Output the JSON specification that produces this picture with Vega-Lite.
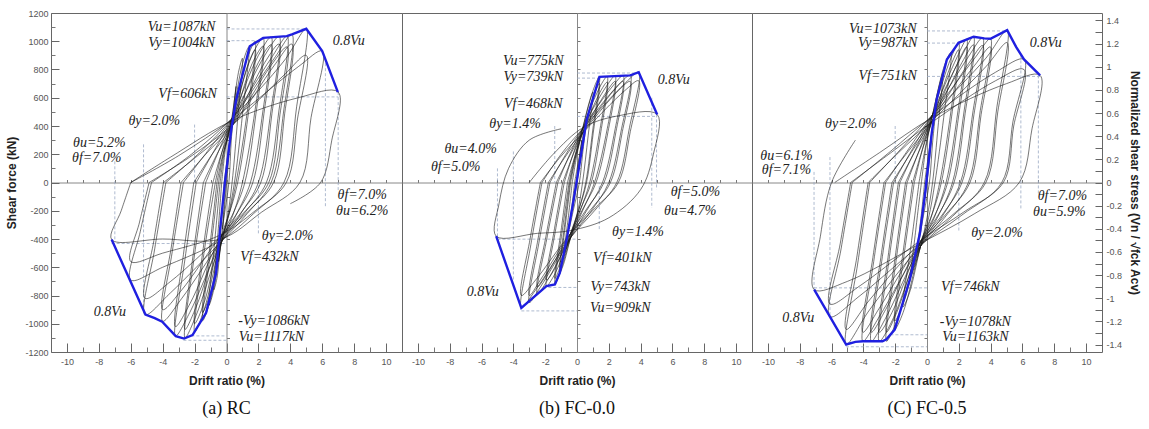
{
"$schema":"https://vega.github.io/schema/vega-lite/v6.json",
"background":"white",
"padding":{"left":5,"top":8,"right":5,"bottom":5},
"spacing":0,
"bounds":"flush",
"config":{"view":{"stroke":"#666","strokeWidth":1},"axis":{"grid":false}},
"datasets":{
"loops":[
{"p":"a","c":1,"x":-0.05,"y":0},{"p":"a","c":1,"x":0.3,"y":400},{"p":"a","c":1,"x":0.1,"y":120},{"p":"a","c":1,"x":-0.25,"y":-330},{"p":"a","c":1,"x":-0.05,"y":0},
{"p":"a","c":2,"x":-0.15,"y":0},{"p":"a","c":2,"x":0.2,"y":300},{"p":"a","c":2,"x":0.6,"y":680},{"p":"a","c":2,"x":0.3,"y":300},{"p":"a","c":2,"x":0.15,"y":0},{"p":"a","c":2,"x":-0.2,"y":-280},{"p":"a","c":2,"x":-0.5,"y":-560},{"p":"a","c":2,"x":-0.3,"y":-250},{"p":"a","c":2,"x":-0.15,"y":0},
{"p":"a","c":3,"x":-0.3,"y":0},{"p":"a","c":3,"x":-0.05,"y":250},{"p":"a","c":3,"x":0.35,"y":470},{"p":"a","c":3,"x":0.75,"y":780},{"p":"a","c":3,"x":1.0,"y":880},{"p":"a","c":3,"x":0.7,"y":450},{"p":"a","c":3,"x":0.35,"y":0},{"p":"a","c":3,"x":0.05,"y":-250},{"p":"a","c":3,"x":-0.35,"y":-440},{"p":"a","c":3,"x":-0.6,"y":-680},{"p":"a","c":3,"x":-0.8,"y":-760},{"p":"a","c":3,"x":-0.55,"y":-380},{"p":"a","c":3,"x":-0.3,"y":0},
{"p":"a","c":4,"x":-0.4,"y":0},{"p":"a","c":4,"x":-0.1,"y":240},{"p":"a","c":4,"x":0.35,"y":450},{"p":"a","c":4,"x":1.0,"y":840},{"p":"a","c":4,"x":1.4,"y":960},{"p":"a","c":4,"x":1.0,"y":480},{"p":"a","c":4,"x":0.5,"y":0},{"p":"a","c":4,"x":0.1,"y":-240},{"p":"a","c":4,"x":-0.35,"y":-440},{"p":"a","c":4,"x":-0.8,"y":-760},{"p":"a","c":4,"x":-1.1,"y":-870},{"p":"a","c":4,"x":-0.75,"y":-430},{"p":"a","c":4,"x":-0.4,"y":0},
{"p":"a","c":5,"x":-0.5,"y":0},{"p":"a","c":5,"x":-0.15,"y":230},{"p":"a","c":5,"x":0.35,"y":440},{"p":"a","c":5,"x":1.3,"y":880},{"p":"a","c":5,"x":1.8,"y":1000},{"p":"a","c":5,"x":1.3,"y":500},{"p":"a","c":5,"x":0.6,"y":0},{"p":"a","c":5,"x":0.15,"y":-230},{"p":"a","c":5,"x":-0.35,"y":-440},{"p":"a","c":5,"x":-1.0,"y":-830},{"p":"a","c":5,"x":-1.5,"y":-980},{"p":"a","c":5,"x":-1.0,"y":-490},{"p":"a","c":5,"x":-0.5,"y":0},
{"p":"a","c":6,"x":-0.7,"y":0},{"p":"a","c":6,"x":-0.25,"y":230},{"p":"a","c":6,"x":0.35,"y":450},{"p":"a","c":6,"x":1.6,"y":900},{"p":"a","c":6,"x":2.3,"y":1024},{"p":"a","c":6,"x":1.8,"y":520},{"p":"a","c":6,"x":1.0,"y":0},{"p":"a","c":6,"x":0.4,"y":-230},{"p":"a","c":6,"x":-0.35,"y":-430},{"p":"a","c":6,"x":-1.4,"y":-900},{"p":"a","c":6,"x":-2.0,"y":-1060},{"p":"a","c":6,"x":-1.45,"y":-530},{"p":"a","c":6,"x":-0.7,"y":0},
{"p":"a","c":7,"x":-1.3,"y":0},{"p":"a","c":7,"x":-0.5,"y":220},{"p":"a","c":7,"x":0.35,"y":450},{"p":"a","c":7,"x":2.0,"y":900},{"p":"a","c":7,"x":2.8,"y":1030},{"p":"a","c":7,"x":2.3,"y":520},{"p":"a","c":7,"x":1.5,"y":0},{"p":"a","c":7,"x":0.6,"y":-230},{"p":"a","c":7,"x":-0.35,"y":-430},{"p":"a","c":7,"x":-1.9,"y":-940},{"p":"a","c":7,"x":-2.6,"y":-1100},{"p":"a","c":7,"x":-2.05,"y":-550},{"p":"a","c":7,"x":-1.3,"y":0},
{"p":"a","c":8,"x":-1.9,"y":0},{"p":"a","c":8,"x":-0.8,"y":220},{"p":"a","c":8,"x":0.35,"y":450},{"p":"a","c":8,"x":2.4,"y":900},{"p":"a","c":8,"x":3.3,"y":1034},{"p":"a","c":8,"x":2.8,"y":520},{"p":"a","c":8,"x":2.0,"y":0},{"p":"a","c":8,"x":0.9,"y":-220},{"p":"a","c":8,"x":-0.35,"y":-430},{"p":"a","c":8,"x":-2.3,"y":-920},{"p":"a","c":8,"x":-3.2,"y":-1088},{"p":"a","c":8,"x":-2.6,"y":-540},{"p":"a","c":8,"x":-1.9,"y":0},
{"p":"a","c":9,"x":-2.7,"y":0},{"p":"a","c":9,"x":-1.2,"y":220},{"p":"a","c":9,"x":0.35,"y":450},{"p":"a","c":9,"x":2.8,"y":880},{"p":"a","c":9,"x":3.8,"y":1036},{"p":"a","c":9,"x":3.3,"y":520},{"p":"a","c":9,"x":2.5,"y":0},{"p":"a","c":9,"x":1.1,"y":-220},{"p":"a","c":9,"x":-0.35,"y":-420},{"p":"a","c":9,"x":-2.8,"y":-820},{"p":"a","c":9,"x":-4.0,"y":-982},{"p":"a","c":9,"x":-3.4,"y":-490},{"p":"a","c":9,"x":-2.7,"y":0},
{"p":"a","c":10,"x":-3.8,"y":0},{"p":"a","c":10,"x":-1.7,"y":210},{"p":"a","c":10,"x":0.4,"y":460},{"p":"a","c":10,"x":3.0,"y":880},{"p":"a","c":10,"x":4.1,"y":1048},{"p":"a","c":10,"x":3.6,"y":520},{"p":"a","c":10,"x":2.8,"y":0},{"p":"a","c":10,"x":1.3,"y":-220},{"p":"a","c":10,"x":-0.35,"y":-420},{"p":"a","c":10,"x":-3.5,"y":-780},{"p":"a","c":10,"x":-5.1,"y":-935},{"p":"a","c":10,"x":-4.5,"y":-470},{"p":"a","c":10,"x":-3.8,"y":0},
{"p":"a","c":11,"x":-4.7,"y":0},{"p":"a","c":11,"x":-2.2,"y":200},{"p":"a","c":11,"x":0.4,"y":460},{"p":"a","c":11,"x":3.6,"y":860},{"p":"a","c":11,"x":5.0,"y":1088},{"p":"a","c":11,"x":4.4,"y":540},{"p":"a","c":11,"x":3.6,"y":0},{"p":"a","c":11,"x":1.7,"y":-220},{"p":"a","c":11,"x":-0.35,"y":-410},{"p":"a","c":11,"x":-4.0,"y":-600},{"p":"a","c":11,"x":-6.0,"y":-690},{"p":"a","c":11,"x":-5.4,"y":-345},{"p":"a","c":11,"x":-4.7,"y":0},
{"p":"a","c":12,"x":-6.0,"y":0},{"p":"a","c":12,"x":-3.0,"y":190},{"p":"a","c":12,"x":0.4,"y":450},{"p":"a","c":12,"x":4.5,"y":820},{"p":"a","c":12,"x":6.0,"y":930},{"p":"a","c":12,"x":5.3,"y":460},{"p":"a","c":12,"x":4.6,"y":0},{"p":"a","c":12,"x":2.2,"y":-210},{"p":"a","c":12,"x":-0.35,"y":-400},{"p":"a","c":12,"x":-4.0,"y":-400},{"p":"a","c":12,"x":-7.2,"y":-404},{"p":"a","c":12,"x":-6.6,"y":-200},{"p":"a","c":12,"x":-6.0,"y":0},
{"p":"a","c":13,"x":-6.0,"y":0},{"p":"a","c":13,"x":-3.5,"y":180},{"p":"a","c":13,"x":0.4,"y":440},{"p":"a","c":13,"x":4.5,"y":600},{"p":"a","c":13,"x":7.0,"y":640},{"p":"a","c":13,"x":6.6,"y":300},{"p":"a","c":13,"x":5.9,"y":0},{"p":"a","c":13,"x":4.0,"y":-150},
{"p":"a","c":105,"x":-0.6,"y":0},{"p":"a","c":105,"x":-0.2,"y":210},{"p":"a","c":105,"x":0.35,"y":400},{"p":"a","c":105,"x":1.3,"y":820},{"p":"a","c":105,"x":1.8,"y":940},{"p":"a","c":105,"x":1.35,"y":470},{"p":"a","c":105,"x":0.7,"y":0},{"p":"a","c":105,"x":0.2,"y":-210},{"p":"a","c":105,"x":-0.35,"y":-390},{"p":"a","c":105,"x":-1.0,"y":-780},{"p":"a","c":105,"x":-1.5,"y":-920},{"p":"a","c":105,"x":-1.05,"y":-460},{"p":"a","c":105,"x":-0.6,"y":0},
{"p":"a","c":106,"x":-0.85,"y":0},{"p":"a","c":106,"x":-0.3,"y":210},{"p":"a","c":106,"x":0.35,"y":400},{"p":"a","c":106,"x":1.6,"y":840},{"p":"a","c":106,"x":2.3,"y":965},{"p":"a","c":106,"x":1.85,"y":490},{"p":"a","c":106,"x":1.15,"y":0},{"p":"a","c":106,"x":0.45,"y":-210},{"p":"a","c":106,"x":-0.35,"y":-390},{"p":"a","c":106,"x":-1.4,"y":-850},{"p":"a","c":106,"x":-2.0,"y":-1000},{"p":"a","c":106,"x":-1.5,"y":-500},{"p":"a","c":106,"x":-0.85,"y":0},
{"p":"a","c":107,"x":-1.45,"y":0},{"p":"a","c":107,"x":-0.6,"y":200},{"p":"a","c":107,"x":0.35,"y":400},{"p":"a","c":107,"x":2.0,"y":850},{"p":"a","c":107,"x":2.8,"y":975},{"p":"a","c":107,"x":2.35,"y":490},{"p":"a","c":107,"x":1.65,"y":0},{"p":"a","c":107,"x":0.7,"y":-210},{"p":"a","c":107,"x":-0.35,"y":-390},{"p":"a","c":107,"x":-1.9,"y":-880},{"p":"a","c":107,"x":-2.6,"y":-1040},{"p":"a","c":107,"x":-2.1,"y":-520},{"p":"a","c":107,"x":-1.45,"y":0},
{"p":"a","c":108,"x":-2.05,"y":0},{"p":"a","c":108,"x":-0.9,"y":200},{"p":"a","c":108,"x":0.35,"y":400},{"p":"a","c":108,"x":2.4,"y":850},{"p":"a","c":108,"x":3.3,"y":980},{"p":"a","c":108,"x":2.85,"y":490},{"p":"a","c":108,"x":2.15,"y":0},{"p":"a","c":108,"x":1.0,"y":-200},{"p":"a","c":108,"x":-0.35,"y":-390},{"p":"a","c":108,"x":-2.3,"y":-860},{"p":"a","c":108,"x":-3.2,"y":-1020},{"p":"a","c":108,"x":-2.7,"y":-510},{"p":"a","c":108,"x":-2.05,"y":0},
{"p":"a","c":109,"x":-2.85,"y":0},{"p":"a","c":109,"x":-1.3,"y":200},{"p":"a","c":109,"x":0.35,"y":400},{"p":"a","c":109,"x":2.8,"y":830},{"p":"a","c":109,"x":3.8,"y":960},{"p":"a","c":109,"x":3.35,"y":480},{"p":"a","c":109,"x":2.65,"y":0},{"p":"a","c":109,"x":1.2,"y":-200},{"p":"a","c":109,"x":-0.35,"y":-380},{"p":"a","c":109,"x":-2.8,"y":-760},{"p":"a","c":109,"x":-4.0,"y":-900},{"p":"a","c":109,"x":-3.45,"y":-450},{"p":"a","c":109,"x":-2.85,"y":0},
{"p":"a","c":110,"x":-3.95,"y":0},{"p":"a","c":110,"x":-1.8,"y":190},{"p":"a","c":110,"x":0.4,"y":410},{"p":"a","c":110,"x":3.0,"y":830},{"p":"a","c":110,"x":4.1,"y":980},{"p":"a","c":110,"x":3.65,"y":490},{"p":"a","c":110,"x":2.95,"y":0},{"p":"a","c":110,"x":1.4,"y":-200},{"p":"a","c":110,"x":-0.35,"y":-380},{"p":"a","c":110,"x":-3.5,"y":-700},{"p":"a","c":110,"x":-5.1,"y":-820},{"p":"a","c":110,"x":-4.55,"y":-410},{"p":"a","c":110,"x":-3.95,"y":0},
{"p":"a","c":111,"x":-4.85,"y":0},{"p":"a","c":111,"x":-2.3,"y":180},{"p":"a","c":111,"x":0.4,"y":410},{"p":"a","c":111,"x":3.6,"y":760},{"p":"a","c":111,"x":5.0,"y":900},{"p":"a","c":111,"x":4.45,"y":450},{"p":"a","c":111,"x":3.75,"y":0},{"p":"a","c":111,"x":1.8,"y":-200},{"p":"a","c":111,"x":-0.35,"y":-370},{"p":"a","c":111,"x":-4.0,"y":-500},{"p":"a","c":111,"x":-6.0,"y":-560},{"p":"a","c":111,"x":-5.45,"y":-280},{"p":"a","c":111,"x":-4.85,"y":0},
{"p":"b","c":1,"x":-0.05,"y":0},{"p":"b","c":1,"x":0.3,"y":300},{"p":"b","c":1,"x":0.1,"y":80},{"p":"b","c":1,"x":-0.3,"y":-200},{"p":"b","c":1,"x":-0.05,"y":0},
{"p":"b","c":2,"x":-0.15,"y":0},{"p":"b","c":2,"x":0.25,"y":250},{"p":"b","c":2,"x":0.6,"y":460},{"p":"b","c":2,"x":0.35,"y":200},{"p":"b","c":2,"x":0.15,"y":0},{"p":"b","c":2,"x":-0.2,"y":-180},{"p":"b","c":2,"x":-0.5,"y":-330},{"p":"b","c":2,"x":-0.3,"y":-150},{"p":"b","c":2,"x":-0.15,"y":0},
{"p":"b","c":3,"x":-0.3,"y":0},{"p":"b","c":3,"x":0.0,"y":200},{"p":"b","c":3,"x":0.35,"y":380},{"p":"b","c":3,"x":0.8,"y":580},{"p":"b","c":3,"x":1.0,"y":640},{"p":"b","c":3,"x":0.7,"y":330},{"p":"b","c":3,"x":0.35,"y":0},{"p":"b","c":3,"x":0.05,"y":-200},{"p":"b","c":3,"x":-0.4,"y":-380},{"p":"b","c":3,"x":-0.65,"y":-460},{"p":"b","c":3,"x":-0.8,"y":-500},{"p":"b","c":3,"x":-0.55,"y":-250},{"p":"b","c":3,"x":-0.3,"y":0},
{"p":"b","c":4,"x":-0.4,"y":0},{"p":"b","c":4,"x":-0.05,"y":200},{"p":"b","c":4,"x":0.35,"y":380},{"p":"b","c":4,"x":1.1,"y":680},{"p":"b","c":4,"x":1.41,"y":748},{"p":"b","c":4,"x":1.0,"y":380},{"p":"b","c":4,"x":0.55,"y":0},{"p":"b","c":4,"x":0.1,"y":-200},{"p":"b","c":4,"x":-0.4,"y":-390},{"p":"b","c":4,"x":-0.85,"y":-580},{"p":"b","c":4,"x":-1.08,"y":-640},{"p":"b","c":4,"x":-0.75,"y":-320},{"p":"b","c":4,"x":-0.4,"y":0},
{"p":"b","c":5,"x":-0.5,"y":0},{"p":"b","c":5,"x":-0.1,"y":200},{"p":"b","c":5,"x":0.35,"y":380},{"p":"b","c":5,"x":1.5,"y":690},{"p":"b","c":5,"x":1.9,"y":750},{"p":"b","c":5,"x":1.45,"y":380},{"p":"b","c":5,"x":0.8,"y":0},{"p":"b","c":5,"x":0.2,"y":-200},{"p":"b","c":5,"x":-0.4,"y":-390},{"p":"b","c":5,"x":-1.1,"y":-650},{"p":"b","c":5,"x":-1.39,"y":-722},{"p":"b","c":5,"x":-0.95,"y":-360},{"p":"b","c":5,"x":-0.5,"y":0},
{"p":"b","c":6,"x":-0.8,"y":0},{"p":"b","c":6,"x":-0.25,"y":200},{"p":"b","c":6,"x":0.35,"y":380},{"p":"b","c":6,"x":1.9,"y":690},{"p":"b","c":6,"x":2.4,"y":755},{"p":"b","c":6,"x":1.9,"y":380},{"p":"b","c":6,"x":1.1,"y":0},{"p":"b","c":6,"x":0.35,"y":-200},{"p":"b","c":6,"x":-0.4,"y":-390},{"p":"b","c":6,"x":-1.5,"y":-670},{"p":"b","c":6,"x":-1.92,"y":-734},{"p":"b","c":6,"x":-1.4,"y":-370},{"p":"b","c":6,"x":-0.8,"y":0},
{"p":"b","c":7,"x":-1.2,"y":0},{"p":"b","c":7,"x":-0.45,"y":200},{"p":"b","c":7,"x":0.35,"y":380},{"p":"b","c":7,"x":2.3,"y":690},{"p":"b","c":7,"x":2.9,"y":757},{"p":"b","c":7,"x":2.4,"y":380},{"p":"b","c":7,"x":1.6,"y":0},{"p":"b","c":7,"x":0.6,"y":-200},{"p":"b","c":7,"x":-0.4,"y":-390},{"p":"b","c":7,"x":-1.9,"y":-700},{"p":"b","c":7,"x":-2.5,"y":-790},{"p":"b","c":7,"x":-1.9,"y":-400},{"p":"b","c":7,"x":-1.2,"y":0},
{"p":"b","c":8,"x":-1.7,"y":0},{"p":"b","c":8,"x":-0.7,"y":200},{"p":"b","c":8,"x":0.35,"y":380},{"p":"b","c":8,"x":2.6,"y":690},{"p":"b","c":8,"x":3.35,"y":758},{"p":"b","c":8,"x":2.8,"y":380},{"p":"b","c":8,"x":2.0,"y":0},{"p":"b","c":8,"x":0.9,"y":-200},{"p":"b","c":8,"x":-0.4,"y":-390},{"p":"b","c":8,"x":-2.3,"y":-740},{"p":"b","c":8,"x":-3.0,"y":-850},{"p":"b","c":8,"x":-2.4,"y":-430},{"p":"b","c":8,"x":-1.7,"y":0},
{"p":"b","c":9,"x":-2.2,"y":0},{"p":"b","c":9,"x":-1.0,"y":200},{"p":"b","c":9,"x":0.35,"y":380},{"p":"b","c":9,"x":3.0,"y":700},{"p":"b","c":9,"x":3.88,"y":781},{"p":"b","c":9,"x":3.3,"y":390},{"p":"b","c":9,"x":2.5,"y":0},{"p":"b","c":9,"x":1.1,"y":-200},{"p":"b","c":9,"x":-0.4,"y":-390},{"p":"b","c":9,"x":-2.6,"y":-760},{"p":"b","c":9,"x":-3.5,"y":-888},{"p":"b","c":9,"x":-2.9,"y":-440},{"p":"b","c":9,"x":-2.2,"y":0},
{"p":"b","c":10,"x":-3.0,"y":0},{"p":"b","c":10,"x":-1.5,"y":200},{"p":"b","c":10,"x":0.4,"y":390},{"p":"b","c":10,"x":2.5,"y":470},{"p":"b","c":10,"x":5.04,"y":482},{"p":"b","c":10,"x":4.8,"y":200},{"p":"b","c":10,"x":4.0,"y":-50},{"p":"b","c":10,"x":2.0,"y":-250},{"p":"b","c":10,"x":-0.4,"y":-340},{"p":"b","c":10,"x":-2.5,"y":-360},{"p":"b","c":10,"x":-5.08,"y":-380},{"p":"b","c":10,"x":-4.9,"y":-150},{"p":"b","c":10,"x":-4.3,"y":100},{"p":"b","c":10,"x":-3.0,"y":300},{"p":"b","c":10,"x":-1.0,"y":380},
{"p":"b","c":104,"x":-0.45,"y":0},{"p":"b","c":104,"x":-0.1,"y":180},{"p":"b","c":104,"x":0.35,"y":350},{"p":"b","c":104,"x":1.1,"y":630},{"p":"b","c":104,"x":1.41,"y":700},{"p":"b","c":104,"x":1.02,"y":350},{"p":"b","c":104,"x":0.6,"y":0},{"p":"b","c":104,"x":0.15,"y":-180},{"p":"b","c":104,"x":-0.4,"y":-360},{"p":"b","c":104,"x":-0.85,"y":-540},{"p":"b","c":104,"x":-1.08,"y":-600},{"p":"b","c":104,"x":-0.78,"y":-300},{"p":"b","c":104,"x":-0.45,"y":0},
{"p":"b","c":105,"x":-0.6,"y":0},{"p":"b","c":105,"x":-0.15,"y":180},{"p":"b","c":105,"x":0.35,"y":350},{"p":"b","c":105,"x":1.5,"y":650},{"p":"b","c":105,"x":1.9,"y":710},{"p":"b","c":105,"x":1.5,"y":360},{"p":"b","c":105,"x":0.9,"y":0},{"p":"b","c":105,"x":0.25,"y":-180},{"p":"b","c":105,"x":-0.4,"y":-360},{"p":"b","c":105,"x":-1.1,"y":-610},{"p":"b","c":105,"x":-1.39,"y":-680},{"p":"b","c":105,"x":-1.0,"y":-340},{"p":"b","c":105,"x":-0.6,"y":0},
{"p":"b","c":106,"x":-0.9,"y":0},{"p":"b","c":106,"x":-0.3,"y":180},{"p":"b","c":106,"x":0.35,"y":350},{"p":"b","c":106,"x":1.9,"y":650},{"p":"b","c":106,"x":2.4,"y":715},{"p":"b","c":106,"x":1.95,"y":360},{"p":"b","c":106,"x":1.2,"y":0},{"p":"b","c":106,"x":0.4,"y":-180},{"p":"b","c":106,"x":-0.4,"y":-360},{"p":"b","c":106,"x":-1.5,"y":-630},{"p":"b","c":106,"x":-1.92,"y":-690},{"p":"b","c":106,"x":-1.45,"y":-350},{"p":"b","c":106,"x":-0.9,"y":0},
{"p":"b","c":107,"x":-1.3,"y":0},{"p":"b","c":107,"x":-0.5,"y":180},{"p":"b","c":107,"x":0.35,"y":350},{"p":"b","c":107,"x":2.3,"y":650},{"p":"b","c":107,"x":2.9,"y":715},{"p":"b","c":107,"x":2.45,"y":360},{"p":"b","c":107,"x":1.7,"y":0},{"p":"b","c":107,"x":0.65,"y":-180},{"p":"b","c":107,"x":-0.4,"y":-360},{"p":"b","c":107,"x":-1.9,"y":-650},{"p":"b","c":107,"x":-2.5,"y":-740},{"p":"b","c":107,"x":-1.95,"y":-380},{"p":"b","c":107,"x":-1.3,"y":0},
{"p":"b","c":108,"x":-1.8,"y":0},{"p":"b","c":108,"x":-0.75,"y":180},{"p":"b","c":108,"x":0.35,"y":350},{"p":"b","c":108,"x":2.6,"y":650},{"p":"b","c":108,"x":3.35,"y":715},{"p":"b","c":108,"x":2.85,"y":360},{"p":"b","c":108,"x":2.1,"y":0},{"p":"b","c":108,"x":0.95,"y":-180},{"p":"b","c":108,"x":-0.4,"y":-360},{"p":"b","c":108,"x":-2.3,"y":-690},{"p":"b","c":108,"x":-3.0,"y":-800},{"p":"b","c":108,"x":-2.45,"y":-400},{"p":"b","c":108,"x":-1.8,"y":0},
{"p":"b","c":109,"x":-2.3,"y":0},{"p":"b","c":109,"x":-1.05,"y":180},{"p":"b","c":109,"x":0.35,"y":350},{"p":"b","c":109,"x":3.0,"y":650},{"p":"b","c":109,"x":3.88,"y":720},{"p":"b","c":109,"x":3.35,"y":360},{"p":"b","c":109,"x":2.6,"y":0},{"p":"b","c":109,"x":1.15,"y":-180},{"p":"b","c":109,"x":-0.4,"y":-360},{"p":"b","c":109,"x":-2.6,"y":-690},{"p":"b","c":109,"x":-3.5,"y":-800},{"p":"b","c":109,"x":-2.95,"y":-400},{"p":"b","c":109,"x":-2.3,"y":0},
{"p":"c","c":1,"x":-0.05,"y":0},{"p":"c","c":1,"x":0.3,"y":352},{"p":"c","c":1,"x":0.1,"y":100},{"p":"c","c":1,"x":-0.3,"y":-250},{"p":"c","c":1,"x":-0.05,"y":0},
{"p":"c","c":2,"x":-0.15,"y":0},{"p":"c","c":2,"x":0.25,"y":320},{"p":"c","c":2,"x":0.61,"y":588},{"p":"c","c":2,"x":0.35,"y":280},{"p":"c","c":2,"x":0.15,"y":0},{"p":"c","c":2,"x":-0.2,"y":-220},{"p":"c","c":2,"x":-0.6,"y":-470},{"p":"c","c":2,"x":-0.35,"y":-220},{"p":"c","c":2,"x":-0.15,"y":0},
{"p":"c","c":3,"x":-0.35,"y":0},{"p":"c","c":3,"x":-0.05,"y":260},{"p":"c","c":3,"x":0.35,"y":480},{"p":"c","c":3,"x":0.8,"y":700},{"p":"c","c":3,"x":1.0,"y":780},{"p":"c","c":3,"x":0.7,"y":400},{"p":"c","c":3,"x":0.35,"y":0},{"p":"c","c":3,"x":0.0,"y":-250},{"p":"c","c":3,"x":-0.4,"y":-450},{"p":"c","c":3,"x":-0.8,"y":-600},{"p":"c","c":3,"x":-1.0,"y":-660},{"p":"c","c":3,"x":-0.7,"y":-330},{"p":"c","c":3,"x":-0.35,"y":0},
{"p":"c","c":4,"x":-0.5,"y":0},{"p":"c","c":4,"x":-0.1,"y":250},{"p":"c","c":4,"x":0.35,"y":480},{"p":"c","c":4,"x":1.1,"y":830},{"p":"c","c":4,"x":1.5,"y":920},{"p":"c","c":4,"x":1.05,"y":460},{"p":"c","c":4,"x":0.5,"y":0},{"p":"c","c":4,"x":0.1,"y":-250},{"p":"c","c":4,"x":-0.4,"y":-450},{"p":"c","c":4,"x":-1.1,"y":-780},{"p":"c","c":4,"x":-1.5,"y":-880},{"p":"c","c":4,"x":-1.0,"y":-440},{"p":"c","c":4,"x":-0.5,"y":0},
{"p":"c","c":5,"x":-0.8,"y":0},{"p":"c","c":5,"x":-0.25,"y":250},{"p":"c","c":5,"x":0.35,"y":480},{"p":"c","c":5,"x":1.5,"y":880},{"p":"c","c":5,"x":2.0,"y":989},{"p":"c","c":5,"x":1.5,"y":500},{"p":"c","c":5,"x":0.8,"y":0},{"p":"c","c":5,"x":0.25,"y":-250},{"p":"c","c":5,"x":-0.4,"y":-450},{"p":"c","c":5,"x":-1.5,"y":-920},{"p":"c","c":5,"x":-2.03,"y":-1041},{"p":"c","c":5,"x":-1.45,"y":-520},{"p":"c","c":5,"x":-0.8,"y":0},
{"p":"c","c":6,"x":-1.25,"y":0},{"p":"c","c":6,"x":-0.45,"y":240},{"p":"c","c":6,"x":0.35,"y":480},{"p":"c","c":6,"x":1.9,"y":890},{"p":"c","c":6,"x":2.5,"y":1015},{"p":"c","c":6,"x":1.95,"y":510},{"p":"c","c":6,"x":1.2,"y":0},{"p":"c","c":6,"x":0.45,"y":-250},{"p":"c","c":6,"x":-0.4,"y":-450},{"p":"c","c":6,"x":-1.9,"y":-980},{"p":"c","c":6,"x":-2.55,"y":-1124},{"p":"c","c":6,"x":-1.95,"y":-560},{"p":"c","c":6,"x":-1.25,"y":0},
{"p":"c","c":7,"x":-1.7,"y":0},{"p":"c","c":7,"x":-0.7,"y":240},{"p":"c","c":7,"x":0.35,"y":480},{"p":"c","c":7,"x":2.2,"y":900},{"p":"c","c":7,"x":2.93,"y":1032},{"p":"c","c":7,"x":2.35,"y":520},{"p":"c","c":7,"x":1.6,"y":0},{"p":"c","c":7,"x":0.65,"y":-250},{"p":"c","c":7,"x":-0.4,"y":-450},{"p":"c","c":7,"x":-2.2,"y":-980},{"p":"c","c":7,"x":-3.0,"y":-1124},{"p":"c","c":7,"x":-2.4,"y":-560},{"p":"c","c":7,"x":-1.7,"y":0},
{"p":"c","c":8,"x":-2.1,"y":0},{"p":"c","c":8,"x":-0.9,"y":240},{"p":"c","c":8,"x":0.35,"y":480},{"p":"c","c":8,"x":2.6,"y":890},{"p":"c","c":8,"x":3.5,"y":1025},{"p":"c","c":8,"x":2.9,"y":510},{"p":"c","c":8,"x":2.1,"y":0},{"p":"c","c":8,"x":0.9,"y":-250},{"p":"c","c":8,"x":-0.4,"y":-450},{"p":"c","c":8,"x":-2.6,"y":-960},{"p":"c","c":8,"x":-3.5,"y":-1124},{"p":"c","c":8,"x":-2.85,"y":-560},{"p":"c","c":8,"x":-2.1,"y":0},
{"p":"c","c":9,"x":-2.6,"y":0},{"p":"c","c":9,"x":-1.2,"y":230},{"p":"c","c":9,"x":0.35,"y":480},{"p":"c","c":9,"x":3.0,"y":880},{"p":"c","c":9,"x":3.99,"y":1018},{"p":"c","c":9,"x":3.35,"y":510},{"p":"c","c":9,"x":2.6,"y":0},{"p":"c","c":9,"x":1.1,"y":-250},{"p":"c","c":9,"x":-0.4,"y":-450},{"p":"c","c":9,"x":-3.0,"y":-950},{"p":"c","c":9,"x":-4.03,"y":-1124},{"p":"c","c":9,"x":-3.35,"y":-560},{"p":"c","c":9,"x":-2.6,"y":0},
{"p":"c","c":10,"x":-3.6,"y":0},{"p":"c","c":10,"x":-1.7,"y":230},{"p":"c","c":10,"x":0.35,"y":480},{"p":"c","c":10,"x":3.7,"y":880},{"p":"c","c":10,"x":5.04,"y":1079},{"p":"c","c":10,"x":4.4,"y":540},{"p":"c","c":10,"x":3.6,"y":0},{"p":"c","c":10,"x":1.6,"y":-240},{"p":"c","c":10,"x":-0.4,"y":-450},{"p":"c","c":10,"x":-3.6,"y":-900},{"p":"c","c":10,"x":-5.08,"y":-1147},{"p":"c","c":10,"x":-4.35,"y":-570},{"p":"c","c":10,"x":-3.6,"y":0},
{"p":"c","c":11,"x":-4.7,"y":0},{"p":"c","c":11,"x":-2.3,"y":220},{"p":"c","c":11,"x":0.35,"y":470},{"p":"c","c":11,"x":4.3,"y":780},{"p":"c","c":11,"x":6.1,"y":871},{"p":"c","c":11,"x":5.4,"y":430},{"p":"c","c":11,"x":4.7,"y":0},{"p":"c","c":11,"x":2.2,"y":-230},{"p":"c","c":11,"x":-0.4,"y":-440},{"p":"c","c":11,"x":-4.2,"y":-800},{"p":"c","c":11,"x":-6.1,"y":-950},{"p":"c","c":11,"x":-5.4,"y":-470},{"p":"c","c":11,"x":-4.7,"y":0},
{"p":"c","c":12,"x":-5.8,"y":0},{"p":"c","c":12,"x":-3.0,"y":210},{"p":"c","c":12,"x":0.35,"y":460},{"p":"c","c":12,"x":5.0,"y":700},{"p":"c","c":12,"x":7.11,"y":758},{"p":"c","c":12,"x":6.6,"y":380},{"p":"c","c":12,"x":5.8,"y":0},{"p":"c","c":12,"x":3.0,"y":-220},{"p":"c","c":12,"x":-0.4,"y":-430},{"p":"c","c":12,"x":-5.0,"y":-700},{"p":"c","c":12,"x":-7.09,"y":-758},{"p":"c","c":12,"x":-6.7,"y":-380},{"p":"c","c":12,"x":-6.0,"y":0},{"p":"c","c":12,"x":-4.5,"y":300},
{"p":"c","c":105,"x":-0.9,"y":0},{"p":"c","c":105,"x":-0.3,"y":230},{"p":"c","c":105,"x":0.35,"y":440},{"p":"c","c":105,"x":1.5,"y":830},{"p":"c","c":105,"x":2.0,"y":940},{"p":"c","c":105,"x":1.55,"y":470},{"p":"c","c":105,"x":0.9,"y":0},{"p":"c","c":105,"x":0.3,"y":-230},{"p":"c","c":105,"x":-0.4,"y":-420},{"p":"c","c":105,"x":-1.5,"y":-860},{"p":"c","c":105,"x":-2.03,"y":-980},{"p":"c","c":105,"x":-1.5,"y":-490},{"p":"c","c":105,"x":-0.9,"y":0},
{"p":"c","c":106,"x":-1.35,"y":0},{"p":"c","c":106,"x":-0.5,"y":220},{"p":"c","c":106,"x":0.35,"y":440},{"p":"c","c":106,"x":1.9,"y":840},{"p":"c","c":106,"x":2.5,"y":960},{"p":"c","c":106,"x":2.0,"y":480},{"p":"c","c":106,"x":1.3,"y":0},{"p":"c","c":106,"x":0.5,"y":-230},{"p":"c","c":106,"x":-0.4,"y":-420},{"p":"c","c":106,"x":-1.9,"y":-920},{"p":"c","c":106,"x":-2.55,"y":-1060},{"p":"c","c":106,"x":-2.0,"y":-530},{"p":"c","c":106,"x":-1.35,"y":0},
{"p":"c","c":107,"x":-1.8,"y":0},{"p":"c","c":107,"x":-0.75,"y":220},{"p":"c","c":107,"x":0.35,"y":440},{"p":"c","c":107,"x":2.2,"y":850},{"p":"c","c":107,"x":2.93,"y":975},{"p":"c","c":107,"x":2.4,"y":490},{"p":"c","c":107,"x":1.7,"y":0},{"p":"c","c":107,"x":0.7,"y":-230},{"p":"c","c":107,"x":-0.4,"y":-420},{"p":"c","c":107,"x":-2.2,"y":-920},{"p":"c","c":107,"x":-3.0,"y":-1060},{"p":"c","c":107,"x":-2.45,"y":-530},{"p":"c","c":107,"x":-1.8,"y":0},
{"p":"c","c":108,"x":-2.2,"y":0},{"p":"c","c":108,"x":-0.95,"y":220},{"p":"c","c":108,"x":0.35,"y":440},{"p":"c","c":108,"x":2.6,"y":840},{"p":"c","c":108,"x":3.5,"y":970},{"p":"c","c":108,"x":2.95,"y":480},{"p":"c","c":108,"x":2.2,"y":0},{"p":"c","c":108,"x":0.95,"y":-230},{"p":"c","c":108,"x":-0.4,"y":-420},{"p":"c","c":108,"x":-2.6,"y":-900},{"p":"c","c":108,"x":-3.5,"y":-1060},{"p":"c","c":108,"x":-2.9,"y":-530},{"p":"c","c":108,"x":-2.2,"y":0},
{"p":"c","c":109,"x":-2.7,"y":0},{"p":"c","c":109,"x":-1.25,"y":210},{"p":"c","c":109,"x":0.35,"y":440},{"p":"c","c":109,"x":3.0,"y":830},{"p":"c","c":109,"x":3.99,"y":960},{"p":"c","c":109,"x":3.4,"y":480},{"p":"c","c":109,"x":2.7,"y":0},{"p":"c","c":109,"x":1.15,"y":-230},{"p":"c","c":109,"x":-0.4,"y":-420},{"p":"c","c":109,"x":-3.0,"y":-890},{"p":"c","c":109,"x":-4.03,"y":-1060},{"p":"c","c":109,"x":-3.4,"y":-530},{"p":"c","c":109,"x":-2.7,"y":0},
{"p":"c","c":110,"x":-3.7,"y":0},{"p":"c","c":110,"x":-1.8,"y":210},{"p":"c","c":110,"x":0.35,"y":440},{"p":"c","c":110,"x":3.7,"y":820},{"p":"c","c":110,"x":5.04,"y":990},{"p":"c","c":110,"x":4.45,"y":500},{"p":"c","c":110,"x":3.7,"y":0},{"p":"c","c":110,"x":1.7,"y":-220},{"p":"c","c":110,"x":-0.4,"y":-420},{"p":"c","c":110,"x":-3.6,"y":-830},{"p":"c","c":110,"x":-5.08,"y":-1040},{"p":"c","c":110,"x":-4.4,"y":-520},{"p":"c","c":110,"x":-3.7,"y":0},
{"p":"c","c":111,"x":-4.8,"y":0},{"p":"c","c":111,"x":-2.4,"y":200},{"p":"c","c":111,"x":0.35,"y":430},{"p":"c","c":111,"x":4.3,"y":720},{"p":"c","c":111,"x":6.1,"y":800},{"p":"c","c":111,"x":5.45,"y":400},{"p":"c","c":111,"x":4.8,"y":0},{"p":"c","c":111,"x":2.3,"y":-210},{"p":"c","c":111,"x":-0.4,"y":-410},{"p":"c","c":111,"x":-4.2,"y":-730},{"p":"c","c":111,"x":-6.1,"y":-860},{"p":"c","c":111,"x":-5.45,"y":-430},{"p":"c","c":111,"x":-4.8,"y":0}
],
"env":[
{"p":"a","x":-7.2,"y":-404},{"p":"a","x":-5.08,"y":-935},{"p":"a","x":-4.5,"y":-960},{"p":"a","x":-4.03,"y":-985},{"p":"a","x":-3.18,"y":-1088},{"p":"a","x":-2.66,"y":-1105},{"p":"a","x":-2.13,"y":-1080},{"p":"a","x":-1.28,"y":-923},{"p":"a","x":-0.65,"y":-640},{"p":"a","x":-0.4,"y":-330},{"p":"a","x":-0.1,"y":0},{"p":"a","x":0.3,"y":375},{"p":"a","x":0.61,"y":588},{"p":"a","x":1.46,"y":965},{"p":"a","x":2.3,"y":1024},{"p":"a","x":3.78,"y":1036},{"p":"a","x":4.1,"y":1048},{"p":"a","x":5.0,"y":1088},{"p":"a","x":6.0,"y":930},{"p":"a","x":6.98,"y":640},
{"p":"b","x":-5.08,"y":-380},{"p":"b","x":-3.5,"y":-888},{"p":"b","x":-1.92,"y":-734},{"p":"b","x":-1.39,"y":-722},{"p":"b","x":-1.08,"y":-640},{"p":"b","x":-0.65,"y":-404},{"p":"b","x":-0.3,"y":-180},{"p":"b","x":0.0,"y":20},{"p":"b","x":0.61,"y":446},{"p":"b","x":1.41,"y":748},{"p":"b","x":3.35,"y":758},{"p":"b","x":3.88,"y":781},{"p":"b","x":5.04,"y":482},
{"p":"c","x":-7.09,"y":-758},{"p":"c","x":-5.08,"y":-1147},{"p":"c","x":-4.5,"y":-1128},{"p":"c","x":-4.03,"y":-1124},{"p":"c","x":-2.8,"y":-1124},{"p":"c","x":-2.55,"y":-1110},{"p":"c","x":-2.03,"y":-1041},{"p":"c","x":-1.08,"y":-687},{"p":"c","x":-0.44,"y":-356},{"p":"c","x":-0.1,"y":-60},{"p":"c","x":0.3,"y":352},{"p":"c","x":0.61,"y":588},{"p":"c","x":1.25,"y":871},{"p":"c","x":1.98,"y":989},{"p":"c","x":2.93,"y":1032},{"p":"c","x":3.6,"y":1020},{"p":"c","x":3.99,"y":1018},{"p":"c","x":5.04,"y":1079},{"p":"c","x":5.6,"y":960},{"p":"c","x":6.1,"y":871},{"p":"c","x":7.11,"y":758}
],
"guides":[
{"p":"a","x":0,"y":1087,"x2":5.0,"y2":1087},{"p":"a","x":0,"y":1004,"x2":2.0,"y2":1004},{"p":"a","x":0,"y":606,"x2":7.0,"y2":606},{"p":"a","x":7.0,"y":640,"x2":7.0,"y2":-60},{"p":"a","x":6.2,"y":880,"x2":6.2,"y2":-180},{"p":"a","x":-5.2,"y":270,"x2":-5.2,"y2":-935},{"p":"a","x":-7.0,"y":150,"x2":-7.0,"y2":-404},{"p":"a","x":-2.0,"y":410,"x2":-2.0,"y2":0},{"p":"a","x":2.0,"y":-360,"x2":2.0,"y2":0},{"p":"a","x":-7.2,"y":-432,"x2":0,"y2":-432},{"p":"a","x":-2.2,"y":-1086,"x2":0,"y2":-1086},{"p":"a","x":-2.7,"y":-1117,"x2":0,"y2":-1117},
{"p":"b","x":0,"y":775,"x2":3.9,"y2":775},{"p":"b","x":0,"y":739,"x2":1.5,"y2":739},{"p":"b","x":0,"y":468,"x2":5.0,"y2":468},{"p":"b","x":5.0,"y":482,"x2":5.0,"y2":-50},{"p":"b","x":4.7,"y":600,"x2":4.7,"y2":-180},{"p":"b","x":-4.0,"y":220,"x2":-4.0,"y2":-700},{"p":"b","x":-5.0,"y":100,"x2":-5.0,"y2":-380},{"p":"b","x":-1.4,"y":400,"x2":-1.4,"y2":0},{"p":"b","x":1.4,"y":-330,"x2":1.4,"y2":0},{"p":"b","x":-5.0,"y":-401,"x2":0,"y2":-401},{"p":"b","x":-1.8,"y":-743,"x2":0,"y2":-743},{"p":"b","x":-3.5,"y":-909,"x2":0,"y2":-909},
{"p":"c","x":0,"y":1073,"x2":5.0,"y2":1073},{"p":"c","x":0,"y":987,"x2":2.0,"y2":987},{"p":"c","x":0,"y":751,"x2":7.1,"y2":751},{"p":"c","x":7.0,"y":758,"x2":7.0,"y2":-80},{"p":"c","x":5.9,"y":900,"x2":5.9,"y2":-190},{"p":"c","x":-6.1,"y":180,"x2":-6.1,"y2":-950},{"p":"c","x":-7.1,"y":75,"x2":-7.1,"y2":-758},{"p":"c","x":-2.0,"y":400,"x2":-2.0,"y2":0},{"p":"c","x":2.0,"y":-340,"x2":2.0,"y2":0},{"p":"c","x":-7.1,"y":-746,"x2":0,"y2":-746},{"p":"c","x":-2.3,"y":-1078,"x2":0,"y2":-1078},{"p":"c","x":-5.1,"y":-1163,"x2":0,"y2":-1163}
],
"labels":[
{"p":"a","x":-2.82,"y":1098,"t":"Vu=1087kN"},{"p":"a","x":-2.82,"y":991,"t":"Vy=1004kN"},{"p":"a","x":7.66,"y":999,"t":"0.8Vu"},{"p":"a","x":-2.44,"y":630,"t":"Vf=606kN"},{"p":"a","x":-4.53,"y":432,"t":"θy=2.0%"},{"p":"a","x":-7.97,"y":283,"t":"θu=5.2%"},{"p":"a","x":-8.13,"y":170,"t":"θf=7.0%"},{"p":"a","x":8.51,"y":-85,"t":"θf=7.0%"},{"p":"a","x":8.51,"y":-205,"t":"θu=6.2%"},{"p":"a","x":3.83,"y":-382,"t":"θy=2.0%"},{"p":"a","x":2.69,"y":-524,"t":"Vf=432kN"},{"p":"a","x":-7.31,"y":-914,"t":"0.8Vu"},{"p":"a","x":2.97,"y":-984,"t":"-Vy=1086kN"},{"p":"a","x":2.82,"y":-1091,"t":"Vu=1117kN"},
{"p":"b","x":-2.75,"y":857,"t":"Vu=775kN"},{"p":"b","x":-2.75,"y":744,"t":"Vy=739kN"},{"p":"b","x":6.08,"y":729,"t":"0.8Vu"},{"p":"b","x":-2.75,"y":559,"t":"Vf=468kN"},{"p":"b","x":-3.89,"y":411,"t":"θy=1.4%"},{"p":"b","x":-6.68,"y":234,"t":"θu=4.0%"},{"p":"b","x":-7.63,"y":113,"t":"θf=5.0%"},{"p":"b","x":7.44,"y":-64,"t":"θf=5.0%"},{"p":"b","x":7.12,"y":-205,"t":"θu=4.7%"},{"p":"b","x":3.83,"y":-347,"t":"θy=1.4%"},{"p":"b","x":2.85,"y":-531,"t":"Vf=401kN"},{"p":"b","x":-5.92,"y":-772,"t":"0.8Vu"},{"p":"b","x":2.72,"y":-737,"t":"Vy=743kN"},{"p":"b","x":2.72,"y":-885,"t":"Vu=909kN"},
{"p":"c","x":-2.78,"y":1084,"t":"Vu=1073kN"},{"p":"c","x":-2.47,"y":991,"t":"Vy=987kN"},{"p":"c","x":7.47,"y":991,"t":"0.8Vu"},{"p":"c","x":-2.47,"y":751,"t":"Vf=751kN"},{"p":"c","x":-4.78,"y":411,"t":"θy=2.0%"},{"p":"c","x":-8.83,"y":191,"t":"θu=6.1%"},{"p":"c","x":-8.83,"y":85,"t":"θf=7.1%"},{"p":"c","x":8.51,"y":-99,"t":"θf=7.0%"},{"p":"c","x":8.32,"y":-212,"t":"θu=5.9%"},{"p":"c","x":4.4,"y":-361,"t":"θy=2.0%"},{"p":"c","x":2.72,"y":-737,"t":"Vf=746kN"},{"p":"c","x":-8.1,"y":-956,"t":"0.8Vu"},{"p":"c","x":3.04,"y":-991,"t":"-Vy=1078kN"},{"p":"c","x":3.04,"y":-1091,"t":"Vu=1163kN"}
]
},
"hconcat":[
{
"width":351,"height":339,
"title":{"text":"(a)  RC","orient":"bottom","font":"Liberation Serif","fontSize":18,"fontWeight":"normal","color":"#111","offset":14},
"resolve":{"axis":{"x":"independent","y":"independent"}},
"layer":[
{"data":{"name":"guides"},"transform":[{"filter":"datum.p=='a'"}],
"mark":{"type":"rule","strokeDash":[3,2],"color":"#9aaac4","strokeWidth":0.8},
"encoding":{
"x":{"field":"x","type":"quantitative","scale":{"domain":[-11,11],"nice":false},"axis":{"orient":"bottom","values":[-10,-8,-6,-4,-2,0,2,4,6,8,10],"labelExpr":"'' + datum.value","title":"Drift ratio (%)","tickSize":-9,"tickColor":"#666","labelPadding":14,"labelFontSize":9,"labelColor":"#555","labelFont":"Liberation Sans","domain":false,"titleFont":"Liberation Sans","titleFontSize":12,"titleFontWeight":"bold","titleColor":"#222","titlePadding":9}},
"y":{"field":"y","type":"quantitative","scale":{"domain":[-1200,1200],"nice":false},"axis":{"orient":"left","values":[-1200,-1000,-800,-600,-400,-200,0,200,400,600,800,1000,1200],"labelExpr":"'' + datum.value","title":"Shear force (kN)","tickSize":-8,"tickColor":"#666","labelPadding":11,"labelFontSize":9,"labelColor":"#555","labelFont":"Liberation Sans","domain":false,"titleFont":"Liberation Sans","titleFontSize":12,"titleFontWeight":"bold","titleColor":"#222","titlePadding":6}},
"x2":{"field":"x2"},"y2":{"field":"y2"}}},
{"data":{"name":"loops"},"transform":[{"filter":"datum.p=='a'"}],
"mark":{"type":"line","color":"#1a1a1a","strokeWidth":0.7,"opacity":0.85,"interpolate":"catmull-rom"},
"encoding":{
"x":{"field":"x","type":"quantitative","scale":{"domain":[-11,11],"nice":false},"axis":{"orient":"top","offset":-169.5,"values":[-10,-9,-8,-7,-6,-5,-4,-3,-2,-1,0,1,2,3,4,5,6,7,8,9,10],"labels":false,"title":null,"tickSize":3,"tickColor":"#777","domainColor":"#888"}},
"y":{"field":"y","type":"quantitative","scale":{"domain":[-1200,1200],"nice":false},"axis":{"orient":"right","offset":-175.5,"values":[-1200,-1100,-1000,-900,-800,-700,-600,-500,-400,-300,-200,-100,0,100,200,300,400,500,600,700,800,900,1000,1100,1200],"labels":false,"title":null,"tickSize":3,"tickColor":"#777","domainColor":"#888"}},
"detail":{"field":"c"},"order":{"value":null}}},
{"data":{"name":"env"},"transform":[{"filter":"datum.p=='a'"}],
"mark":{"type":"line","color":"#1f1fe0","strokeWidth":2.4},
"encoding":{
"x":{"field":"x","type":"quantitative","scale":{"domain":[-11,11],"nice":false},"axis":{"orient":"bottom","values":[-9,-7,-5,-3,-1,1,3,5,7,9],"labels":false,"title":null,"tickSize":-5,"tickColor":"#777","domain":false}},
"y":{"field":"y","type":"quantitative","scale":{"domain":[-1200,1200],"nice":false},"axis":{"orient":"left","values":[-1100,-900,-700,-500,-300,-100,100,300,500,700,900,1100],"labels":false,"title":null,"tickSize":-4,"tickColor":"#777","domain":false}},
"order":{"value":null}}},
{"data":{"name":"labels"},"transform":[{"filter":"datum.p=='a'"}],
"mark":{"type":"text","font":"Liberation Serif","fontSize":14,"fontStyle":"italic","color":"#222","align":"center","baseline":"middle"},
"encoding":{
"x":{"field":"x","type":"quantitative","scale":{"domain":[-11,11],"nice":false},"axis":null},
"y":{"field":"y","type":"quantitative","scale":{"domain":[-1200,1200],"nice":false},"axis":null},
"text":{"field":"t"}}}
]
},
{
"width":350,"height":339,
"title":{"text":"(b)  FC-0.0","orient":"bottom","font":"Liberation Serif","fontSize":18,"fontWeight":"normal","color":"#111","offset":14},
"resolve":{"axis":{"x":"independent","y":"independent"}},
"layer":[
{"data":{"name":"guides"},"transform":[{"filter":"datum.p=='b'"}],
"mark":{"type":"rule","strokeDash":[3,2],"color":"#9aaac4","strokeWidth":0.8},
"encoding":{
"x":{"field":"x","type":"quantitative","scale":{"domain":[-11,11],"nice":false},"axis":{"orient":"bottom","values":[-10,-8,-6,-4,-2,0,2,4,6,8,10],"labelExpr":"'' + datum.value","title":"Drift ratio (%)","tickSize":-9,"tickColor":"#666","labelPadding":14,"labelFontSize":9,"labelColor":"#555","labelFont":"Liberation Sans","domain":false,"titleFont":"Liberation Sans","titleFontSize":12,"titleFontWeight":"bold","titleColor":"#222","titlePadding":9}},
"y":{"field":"y","type":"quantitative","scale":{"domain":[-1200,1200],"nice":false},"axis":null},
"x2":{"field":"x2"},"y2":{"field":"y2"}}},
{"data":{"name":"loops"},"transform":[{"filter":"datum.p=='b'"}],
"mark":{"type":"line","color":"#1a1a1a","strokeWidth":0.7,"opacity":0.85,"interpolate":"catmull-rom"},
"encoding":{
"x":{"field":"x","type":"quantitative","scale":{"domain":[-11,11],"nice":false},"axis":{"orient":"top","offset":-169.5,"values":[-10,-9,-8,-7,-6,-5,-4,-3,-2,-1,0,1,2,3,4,5,6,7,8,9,10],"labels":false,"title":null,"tickSize":3,"tickColor":"#777","domainColor":"#888"}},
"y":{"field":"y","type":"quantitative","scale":{"domain":[-1200,1200],"nice":false},"axis":{"orient":"right","offset":-175,"values":[-1200,-1100,-1000,-900,-800,-700,-600,-500,-400,-300,-200,-100,0,100,200,300,400,500,600,700,800,900,1000,1100,1200],"labels":false,"title":null,"tickSize":3,"tickColor":"#777","domainColor":"#888"}},
"detail":{"field":"c"},"order":{"value":null}}},
{"data":{"name":"env"},"transform":[{"filter":"datum.p=='b'"}],
"mark":{"type":"line","color":"#1f1fe0","strokeWidth":2.4},
"encoding":{
"x":{"field":"x","type":"quantitative","scale":{"domain":[-11,11],"nice":false},"axis":{"orient":"bottom","values":[-9,-7,-5,-3,-1,1,3,5,7,9],"labels":false,"title":null,"tickSize":-5,"tickColor":"#777","domain":false}},
"y":{"field":"y","type":"quantitative","scale":{"domain":[-1200,1200],"nice":false},"axis":null},
"order":{"value":null}}},
{"data":{"name":"labels"},"transform":[{"filter":"datum.p=='b'"}],
"mark":{"type":"text","font":"Liberation Serif","fontSize":14,"fontStyle":"italic","color":"#222","align":"center","baseline":"middle"},
"encoding":{
"x":{"field":"x","type":"quantitative","scale":{"domain":[-11,11],"nice":false},"axis":null},
"y":{"field":"y","type":"quantitative","scale":{"domain":[-1200,1200],"nice":false},"axis":null},
"text":{"field":"t"}}}
]
},
{
"width":350,"height":339,
"title":{"text":"(C)  FC-0.5","orient":"bottom","font":"Liberation Serif","fontSize":18,"fontWeight":"normal","color":"#111","offset":14},
"resolve":{"axis":{"x":"independent","y":"independent"}},
"layer":[
{"data":{"name":"guides"},"transform":[{"filter":"datum.p=='c'"}],
"mark":{"type":"rule","strokeDash":[3,2],"color":"#9aaac4","strokeWidth":0.8},
"encoding":{
"x":{"field":"x","type":"quantitative","scale":{"domain":[-11,11],"nice":false},"axis":{"orient":"bottom","values":[-10,-8,-6,-4,-2,0,2,4,6,8,10],"labelExpr":"'' + datum.value","title":"Drift ratio (%)","tickSize":-9,"tickColor":"#666","labelPadding":14,"labelFontSize":9,"labelColor":"#555","labelFont":"Liberation Sans","domain":false,"titleFont":"Liberation Sans","titleFontSize":12,"titleFontWeight":"bold","titleColor":"#222","titlePadding":9}},
"y":{"field":"y","type":"quantitative","scale":{"domain":[-1200,1200],"nice":false},"axis":null},
"x2":{"field":"x2"},"y2":{"field":"y2"}}},
{"data":{"name":"loops"},"transform":[{"filter":"datum.p=='c'"}],
"mark":{"type":"line","color":"#1a1a1a","strokeWidth":0.7,"opacity":0.85,"interpolate":"catmull-rom"},
"encoding":{
"x":{"field":"x","type":"quantitative","scale":{"domain":[-11,11],"nice":false},"axis":{"orient":"top","offset":-169.5,"values":[-10,-9,-8,-7,-6,-5,-4,-3,-2,-1,0,1,2,3,4,5,6,7,8,9,10],"labels":false,"title":null,"tickSize":3,"tickColor":"#777","domainColor":"#888"}},
"y":{"field":"y","type":"quantitative","scale":{"domain":[-1200,1200],"nice":false},"axis":{"orient":"left","offset":-175,"values":[-1200,-1100,-1000,-900,-800,-700,-600,-500,-400,-300,-200,-100,0,100,200,300,400,500,600,700,800,900,1000,1100,1200],"labels":false,"title":null,"tickSize":3,"tickColor":"#777","domainColor":"#888"}},
"detail":{"field":"c"},"order":{"value":null}}},
{"data":{"name":"env"},"transform":[{"filter":"datum.p=='c'"}],
"mark":{"type":"line","color":"#1f1fe0","strokeWidth":2.4},
"encoding":{
"x":{"field":"x","type":"quantitative","scale":{"domain":[-11,11],"nice":false},"axis":{"orient":"bottom","values":[-9,-7,-5,-3,-1,1,3,5,7,9],"labels":false,"title":null,"tickSize":-5,"tickColor":"#777","domain":false}},
"y":{"field":"y","type":"quantitative","scale":{"domain":[-1200,1200],"nice":false},"axis":null},
"order":{"value":null}}},
{"data":{"name":"labels"},"transform":[{"filter":"datum.p=='c'"}],
"mark":{"type":"text","font":"Liberation Serif","fontSize":14,"fontStyle":"italic","color":"#222","align":"center","baseline":"middle"},
"encoding":{
"x":{"field":"x","type":"quantitative","scale":{"domain":[-11,11],"nice":false},"axis":null},
"y":{"field":"y","type":"quantitative","scale":{"domain":[-1200,1200],"nice":false},"axis":{"orient":"right","values":[-1148,-1066,-984,-902,-820,-738,-656,-574,-492,-410,-328,-246,-164,-82,0,82,164,246,328,410,492,574,656,738,820,902,984,1066,1148],"labelExpr":"abs(round(datum.value/82)) % 2 == 0 ? '' + round(datum.value/82)/10 : ''","title":"Normalized shear stress (Vn / √fck Acv)","tickSize":-7,"tickColor":"#666","labelPadding":11,"labelFontSize":9,"labelColor":"#555","labelFont":"Liberation Sans","labelAlign":"left","domain":false,"titleFont":"Liberation Sans","titleFontSize":12,"titleFontWeight":"bold","titleColor":"#222","titlePadding":6}},
"text":{"field":"t"}}}
]
}
]
}
